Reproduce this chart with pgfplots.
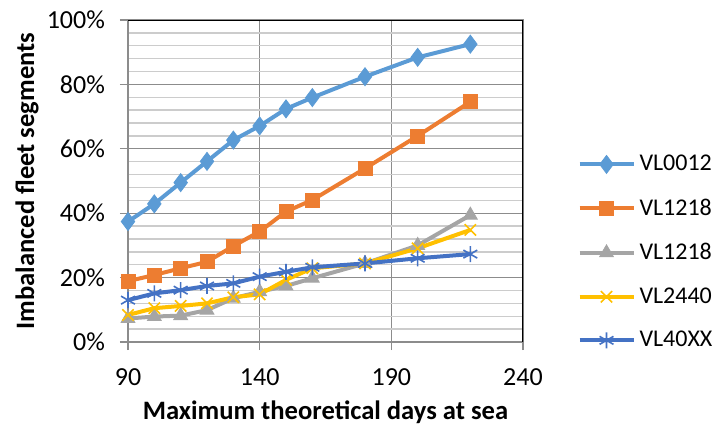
\documentclass[border=0pt]{standalone}
\usepackage{pgfplots}
\pgfplotsset{compat=1.18}
\usepackage{fontspec}
\setmainfont{Carlito}
\definecolor{c1}{HTML}{5B9BD5}
\definecolor{c2}{HTML}{ED7D31}
\definecolor{c3}{HTML}{A5A5A5}
\definecolor{c4}{HTML}{FFC000}
\definecolor{c5}{HTML}{4472C4}
\definecolor{gmaj}{HTML}{8C8C8C}
\definecolor{gmin}{HTML}{CCCCCC}
\begin{document}
\begin{tikzpicture}
\path[use as bounding box] (-64pt,-44pt) rectangle (294.5pt,171pt);
\begin{axis}[
  scale only axis,
  width=197.5pt, height=161pt,
  xmin=90, xmax=240, ymin=0, ymax=100,
  xtick={90,140,190,240},
  ytick={0,20,40,60,80,100},
  minor y tick num=4,
  yticklabel={\pgfmathprintnumber{\tick}\%},
  /pgf/number format/assume math mode=true,
  tick label style={font=\fontsize{13}{15}\selectfont},
  ymajorgrids, xmajorgrids, yminorgrids,
  major grid style={gmaj, line width=0.6pt},
  minor grid style={gmin, line width=0.7pt},
  axis line style={gmaj, line width=0.8pt},
  tick align=outside, tick pos=left,
  major tick length=4pt, minor tick length=0pt,
  tick style={gmaj, line width=0.6pt},
  xlabel={\textbf{Maximum theoretical days at sea}},
  ylabel={\textbf{Imbalanced fleet segments}},
  label style={font=\fontsize{13.3}{15}\selectfont},
  xlabel style={at={(axis description cs:0.5,0)}, anchor=center, yshift=-35pt},
  ylabel style={at={(axis description cs:0,0.5)}, anchor=center, yshift=50.5pt},
  xticklabel style={yshift=-6pt},
  yticklabel style={xshift=-4pt},
  legend style={at={(1.137,0.594)}, anchor=north west, draw=none, fill=none,
    font=\fontsize{12}{14}\selectfont, row sep=8.5pt, inner sep=0pt,
    /tikz/every even column/.append style={column sep=2pt}},
  legend cell align=left,
  legend image code/.code={
    \draw[mark repeat=2,mark phase=2] plot coordinates {(0pt,0pt)(13.5pt,0pt)(27pt,0pt)};
  },
  every axis plot/.append style={line width=2pt},
]
\addplot[c1, mark=diamond*, mark size=4.5pt, mark options={solid, fill=c1, line width=0.4pt}] coordinates {
(90,37.4)(100,42.9)(110,49.5)(120,56.1)(130,62.7)(140,67.1)(150,72.4)(160,75.9)(180,82.4)(200,88.4)(220,92.5)};
\addlegendentry{VL0012}
\addplot[c2, mark=square*, mark size=3.5pt, mark options={solid, fill=c2, line width=0.4pt}] coordinates {
(90,18.9)(100,20.8)(110,22.9)(120,24.9)(130,29.8)(140,34.3)(150,40.5)(160,44.1)(180,53.9)(200,64.0)(220,74.6)};
\addlegendentry{VL1218}
\addplot[c3, mark=triangle*, mark size=4pt, mark options={solid, fill=c3, line width=0.4pt}] coordinates {
(90,7.3)(100,7.9)(110,8.2)(120,9.9)(130,13.6)(140,15.6)(150,17.4)(160,19.8)(180,24.4)(200,30.0)(220,39.4)};
\addlegendentry{VL1218}
\addplot[c4, mark=x, mark size=4pt, mark options={solid, line width=0.8pt}] coordinates {
(90,8.4)(100,10.5)(110,11.2)(120,12.0)(130,13.9)(140,14.8)(150,19.3)(160,22.9)(180,24.4)(200,29.1)(220,34.8)};
\addlegendentry{VL2440}
\addplot[c5, mark=asterisk, mark size=4pt, mark options={solid, line width=0.8pt}] coordinates {
(90,13.0)(100,15.1)(110,16.1)(120,17.4)(130,18.2)(140,20.3)(150,21.8)(160,23.2)(180,24.4)(200,26.0)(220,27.3)};
\addlegendentry{VL40XX}
\draw[black, line width=1.2pt] (rel axis cs:0,1) -- (rel axis cs:1,1) -- (rel axis cs:1,0);
\end{axis}
\end{tikzpicture}
\end{document}
